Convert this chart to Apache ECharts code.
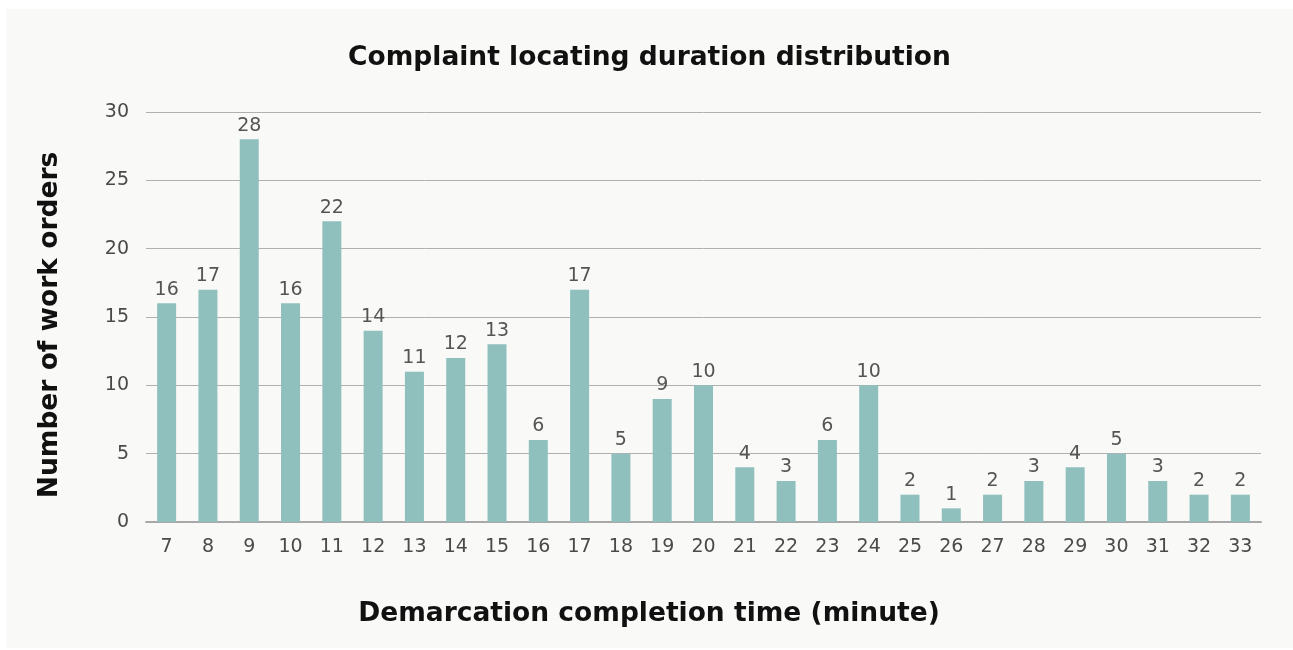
<!DOCTYPE html>
<html>
<head>
<meta charset="utf-8">
<style>
  html, body { margin: 0; padding: 0; background: #ffffff; }
  #chart { position: absolute; left: 6px; top: 9px; width: 1287px; height: 639px; background: #f9f9f7; }
</style>
<script src="https://cdn.jsdelivr.net/npm/echarts@6/dist/echarts.min.js"></script>
</head>
<body>
<div id="chart"></div>
<script>
// Demarcation completion time in minutes (x categories)
const minutes = ['7','8','9','10','11','12','13','14','15','16','17','18','19','20','21','22','23','24','25','26','27','28','29','30','31','32','33'];
// Number of work orders per completion time
const workOrders = [16, 17, 28, 16, 22, 14, 11, 12, 13, 6, 17, 5, 9, 10, 4, 3, 6, 10, 2, 1, 2, 3, 4, 5, 3, 2, 2];
// Value axis range and step
const yMin = 0, yMax = 30, yStep = 5;
// Axis titles
const xTitle = 'Demarcation completion time (minute)';
const yTitle = 'Number of work orders';

const HEAD_FONT = '"DejaVu Sans", sans-serif';
const TEXT_FONT = '"DejaVu Sans", sans-serif';
const HEAD_SIZE = 26.5;
const headFont = 'bold ' + HEAD_SIZE + 'px ' + HEAD_FONT;
const chart = echarts.init(document.getElementById('chart'), null, { renderer: 'canvas' });

chart.setOption({
  backgroundColor: '#f9f9f7',
  animation: false,
  title: {
    text: 'Complaint locating duration distribution',
    left: 'center',
    top: 31,
    textStyle: { fontFamily: HEAD_FONT, fontWeight: 'bold', fontSize: HEAD_SIZE, color: '#111111' }
  },
  // axis titles are centred on the whole panel rather than on the plot area
  graphic: [
    {
      type: 'text',
      x: 643, y: 605,
      style: { text: xTitle, font: headFont, fill: '#111111', align: 'center', verticalAlign: 'middle' }
    },
    {
      type: 'text',
      x: 44, y: 316,
      rotation: Math.PI / 2,
      style: { text: yTitle, font: headFont, fill: '#111111', align: 'center', verticalAlign: 'middle' }
    }
  ],
  grid: { left: 140, right: 32, top: 103, bottom: 126, containLabel: false },
  xAxis: {
    type: 'category',
    data: minutes,
    axisLine: { show: true, lineStyle: { color: '#a8a8a8', width: 2 } },
    axisTick: { show: false },
    axisLabel: { fontFamily: TEXT_FONT, fontSize: 19, color: '#4a4a4a', margin: 16 }
  },
  yAxis: {
    type: 'value',
    min: yMin,
    max: yMax,
    interval: yStep,
    axisLine: { show: false },
    axisTick: { show: false },
    axisLabel: { fontFamily: TEXT_FONT, fontSize: 19, color: '#4a4a4a', margin: 17 },
    splitLine: { show: true, lineStyle: { color: '#b0b0b0', width: 1 } }
  },
  series: [{
    type: 'bar',
    data: workOrders,
    barWidth: 19,
    itemStyle: { color: '#8fc0bd' },
    label: {
      show: true,
      position: 'top',
      distance: 4,
      fontFamily: TEXT_FONT,
      fontSize: 19,
      color: '#555555'
    }
  }]
});
</script>
</body>
</html>
